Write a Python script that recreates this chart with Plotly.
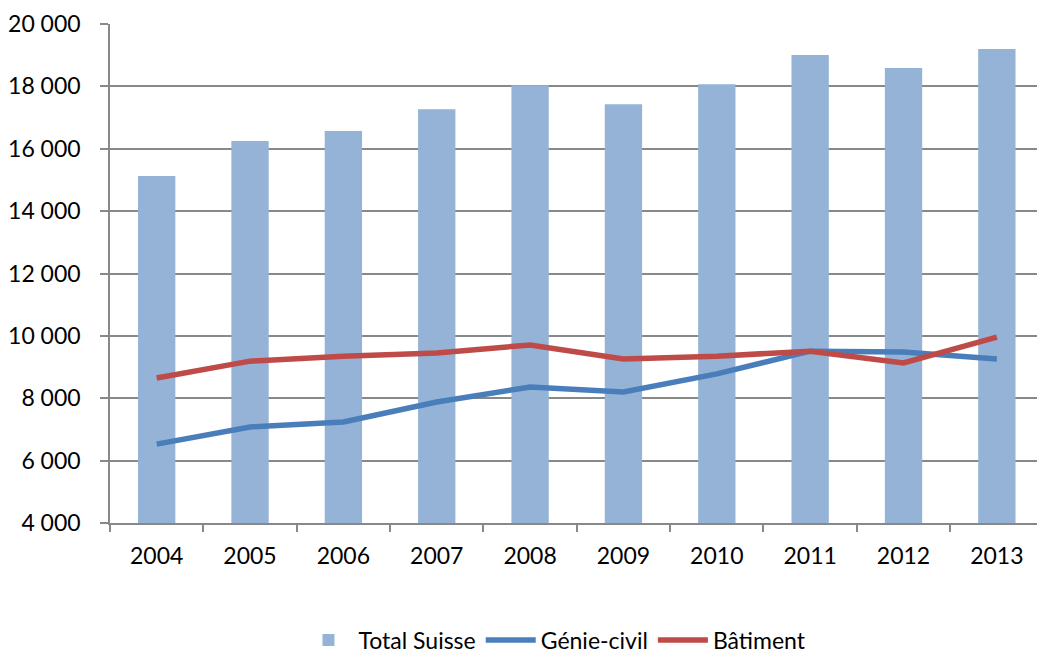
import plotly.graph_objects as go

years = ["2004", "2005", "2006", "2007", "2008", "2009", "2010", "2011", "2012", "2013"]
total_suisse = [15130, 16250, 16570, 17270, 18040, 17430, 18070, 19010, 18590, 19200]
genie_civil = [6530, 7080, 7240, 7880, 8360, 8200, 8780, 9510, 9480, 9260]
batiment = [8650, 9190, 9350, 9450, 9710, 9260, 9350, 9510, 9130, 9960]
y_ticks = [4000, 6000, 8000, 10000, 12000, 14000, 16000, 18000, 20000]

font = "Lato, 'Open Sans', sans-serif"
grid = "#888888"

fig = go.Figure()
fig.add_trace(go.Bar(x=years, y=total_suisse, name="Total Suisse",
                     marker=dict(color="#95B3D7", line=dict(width=0))))
fig.add_trace(go.Scatter(x=years, y=genie_civil, name="Génie-civil", mode="lines",
                         line=dict(color="#4A7EBB", width=5.5)))
fig.add_trace(go.Scatter(x=years, y=batiment, name="Bâtiment", mode="lines",
                         line=dict(color="#BE4B48", width=5.5)))

fig.update_layout(
    width=1037, height=653,
    margin=dict(l=110, r=0, t=24, b=130, autoexpand=False),
    paper_bgcolor="white", plot_bgcolor="white",
    separators=", ",
    bargap=0.6,
    font=dict(family=font, size=23, color="#000000"),
    showlegend=True,
    legend=dict(orientation="h", x=0.48, xanchor="center", yref="container",
                y=0.02, yanchor="middle",
                font=dict(size=23), traceorder="normal", itemwidth=50),
    xaxis=dict(type="category", range=[-0.5, 9.43], showline=True, linecolor=grid,
               linewidth=1.5, ticks="outside", tickson="boundaries", ticklen=7,
               tickcolor=grid, tickwidth=1.5, showgrid=False, ticklabelstandoff=12),
    yaxis=dict(range=[4000, 20000], tickvals=y_ticks, tickformat=",d",
               showline=True, linecolor=grid, linewidth=1.5, ticks="outside",
               ticklen=8, tickcolor=grid, tickwidth=1.5, showgrid=True,
               gridcolor=grid, gridwidth=1.5, zeroline=False, ticklabelstandoff=15),
)

fig.write_html("out.html", config={"displayModeBar": False},
               post_script="document.body.style.margin='0';document.body.style.overflow='hidden';")
